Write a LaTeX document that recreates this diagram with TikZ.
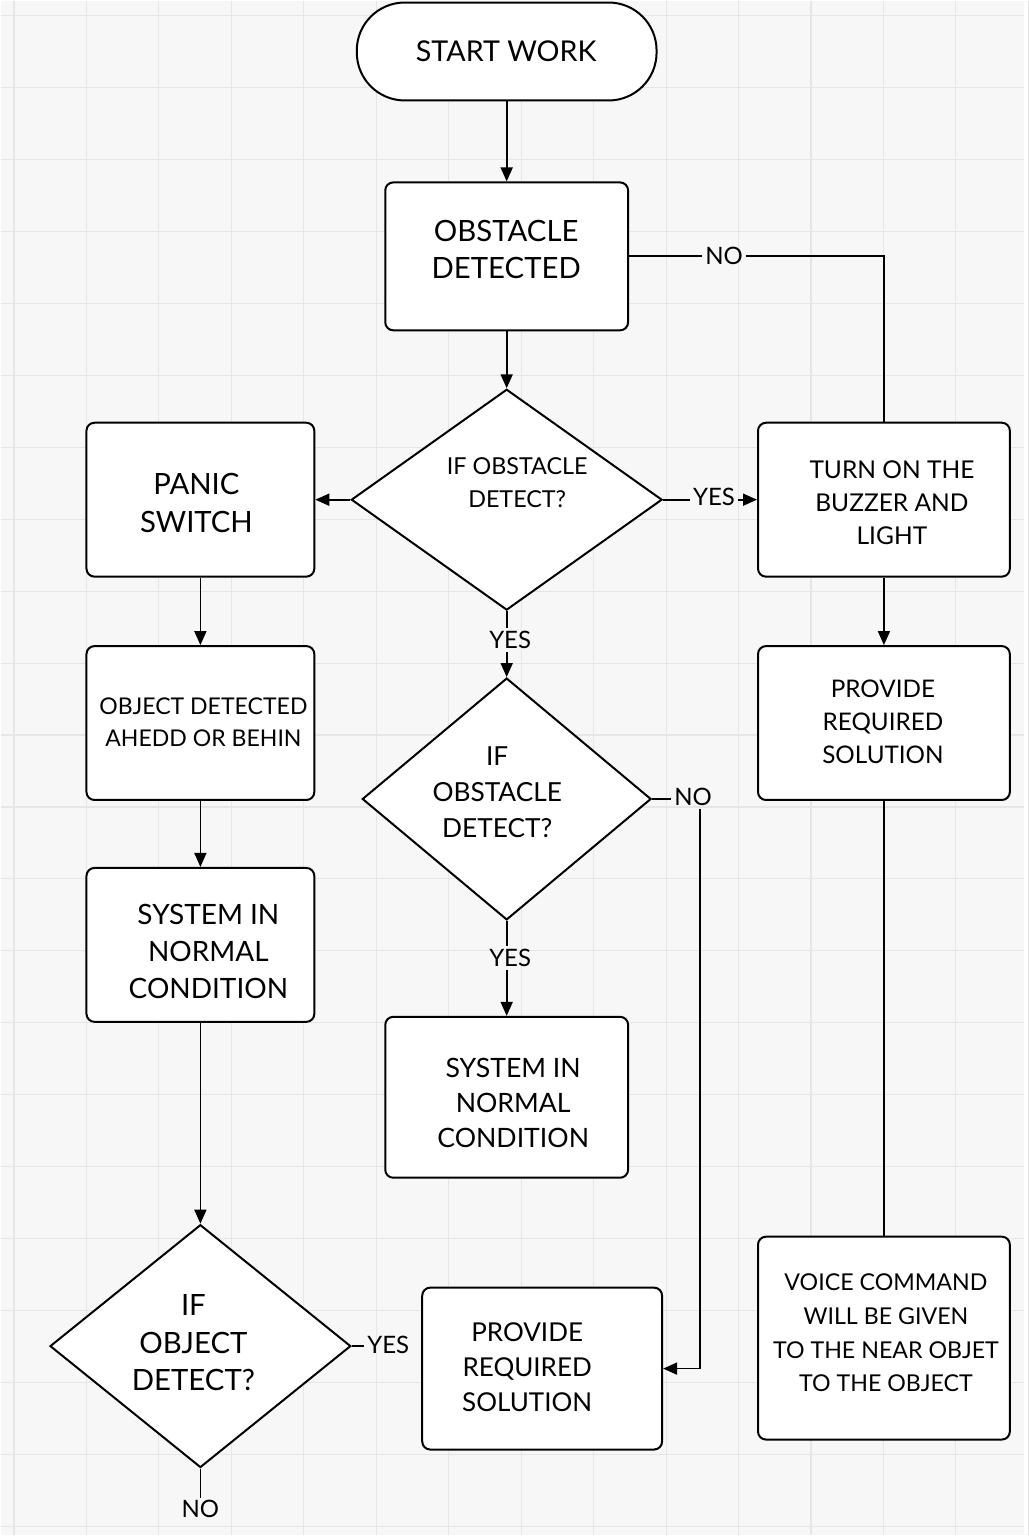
\documentclass[tikz,border=0pt]{standalone}
\usepackage{fontspec}
\setmainfont{Lato}
\usetikzlibrary{shapes.geometric,arrows.meta}
\definecolor{bgc}{HTML}{F7F7F7}
\definecolor{gridc}{HTML}{E6E6E6}
\begin{document}
\begin{tikzpicture}[x=0.75pt,y=-0.75pt,
  shapebox/.style={draw, line width=1.5pt, rounded corners=6pt, fill=white, inner sep=0pt},
  dia/.style={draw, diamond, line width=1.5pt, fill=white, inner sep=0pt},
  term/.style={draw, line width=1.5pt, rounded corners=36pt, fill=white, inner sep=0pt},
  txt/.style={align=center, inner sep=0pt},
  lbl/.style={inner sep=2pt, font=\fontsize{18}{22}\selectfont},
  conn/.style={line width=1.3pt},
  arr/.style={line width=1.3pt, -{Triangle[length=10.5pt,width=9pt]}},
  gridline/.style={draw=gridc, line width=0.8pt}]
\fill[bgc] (0,0) rectangle (1024,1536);
\foreach \i in {0,...,14} \draw[gridline] ({13.5+72.5*\i},0) -- ({13.5+72.5*\i},1536);
\foreach \j in {0,...,21} \draw[gridline] (0,{15+72*\j}) -- (1024,{15+72*\j});
\useasboundingbox (0,0) rectangle (1024,1536);

% shapes
\node[term, minimum width=225pt, minimum height=73.5pt] (start) at (506.5,51) {};
\node[shapebox, minimum width=182.25pt, minimum height=111pt] (obst) at (506.5,256) {};
\node[dia, minimum width=233.25pt, minimum height=165.75pt] (d1) at (506.5,499.5) {};
\node[shapebox, minimum width=171pt, minimum height=115.5pt] (panic) at (200,499.5) {};
\node[shapebox, minimum width=189pt, minimum height=115.5pt] (buzz) at (884,499.5) {};
\node[shapebox, minimum width=171pt, minimum height=115.5pt] (objdet) at (200,723) {};
\node[shapebox, minimum width=189pt, minimum height=115.5pt] (prov1) at (884,723) {};
\node[shapebox, minimum width=171pt, minimum height=115.5pt] (sysL) at (200,945) {};
\node[dia, minimum width=216.75pt, minimum height=181.5pt] (d2) at (506.5,799) {};
\node[shapebox, minimum width=182.25pt, minimum height=120.75pt] (sysC) at (506.5,1097.5) {};
\node[dia, minimum width=225.75pt, minimum height=182.25pt] (d3) at (200,1346.5) {};
\node[shapebox, minimum width=180pt, minimum height=121.5pt] (prov2) at (542,1369) {};
\node[shapebox, minimum width=189pt, minimum height=152.25pt] (voice) at (884,1338.5) {};

% texts
\node[txt, font=\fontsize{21.5}{27}\selectfont] (start-t) at (506,51) {START WORK};
\node[txt, font=\fontsize{22}{27.75}\selectfont] (obst-t) at (506,249.5) {OBSTACLE\\DETECTED};
\node[txt, font=\fontsize{17.5}{24.75}\selectfont] (d1-t) at (517,482.5) {IF OBSTACLE\\DETECT?};
\node[txt, font=\fontsize{22}{28.5}\selectfont] (panic-t) at (196,503) {PANIC\\SWITCH};
\node[txt, font=\fontsize{18.4}{24.75}\selectfont] (buzz-t) at (892,503) {TURN ON THE\\BUZZER AND\\LIGHT};
\node[txt, font=\fontsize{17.3}{24}\selectfont] (objdet-t) at (203,722) {OBJECT DETECTED\\AHEDD OR BEHIN};
\node[txt, font=\fontsize{18.2}{24.75}\selectfont] (prov1-t) at (883,722) {PROVIDE\\REQUIRED\\SOLUTION};
\node[txt, font=\fontsize{21}{27.75}\selectfont] (sysL-t) at (208,952) {SYSTEM IN\\NORMAL\\CONDITION};
\node[txt, font=\fontsize{19.7}{27}\selectfont] (d2-t) at (497,792) {IF\\OBSTACLE\\DETECT?};
\node[txt, font=\fontsize{20}{26.25}\selectfont] (sysC-t) at (513,1103) {SYSTEM IN\\NORMAL\\CONDITION};
\node[txt, font=\fontsize{22}{28.5}\selectfont] (d3-t) at (193,1343) {IF\\OBJECT\\DETECT?};
\node[txt, font=\fontsize{19.5}{26.25}\selectfont] (prov2-t) at (527,1368) {PROVIDE\\REQUIRED\\SOLUTION};
\node[txt, font=\fontsize{17.4}{25.25}\selectfont] (voice-t) at (886,1333.5) {VOICE COMMAND\\WILL BE GIVEN\\TO THE NEAR OBJET\\TO THE OBJECT};

% labels
\node[lbl] (noA) at (724,256) {NO};
\node[lbl] (yesA) at (714,497) {YES};
\node[lbl] (yesB) at (510,640) {YES};
\node[lbl] (noB) at (693,797) {NO};
\node[lbl] (yesC) at (510,958) {YES};
\node[lbl] (yesD) at (388,1345) {YES};
\node[lbl, inner sep=1pt] (noD) at (200,1509) {NO};

% connectors
\draw[arr] (start) -- (obst);
\draw[arr] (obst) -- (d1);
\draw[conn] (obst.east) -- (obst.east -| noA.west);
\draw[conn] (obst.east -| noA.east) -| (buzz.north);
\draw[arr] (d1.west) -- (panic.east);
\draw[conn] (d1.east) -- (d1.east -| yesA.west);
\draw[arr] (d1.east -| yesA.east) -- (buzz.west);
\draw[conn] (d1.south) -- (d1.south |- yesB.north);
\draw[arr] (d1.south |- yesB.south) -- (d2.north);
\draw[arr] (panic) -- (objdet);
\draw[arr] (objdet) -- (sysL);
\draw[arr] (sysL) -- (d3);
\draw[conn] (d2.east) -- (d2.east -| noB.west);
\draw[arr] ([xshift=5.25pt]noB.south) |- (prov2.east);
\draw[conn] (d2.south) -- (d2.south |- yesC.north);
\draw[arr] (d2.south |- yesC.south) -- (sysC.north);
\draw[arr] (buzz) -- (prov1);
\draw[conn] (prov1) -- (voice);
\draw[conn] (d3.east) -- (d3.east -| yesD.west);
\draw[conn] (d3.south) -- (noD.north);
\end{tikzpicture}
\end{document}
